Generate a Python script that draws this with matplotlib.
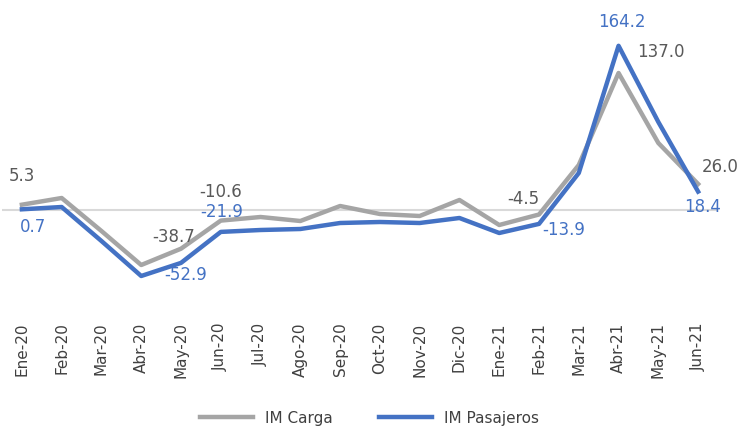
import matplotlib.pyplot as plt

months = ['Ene-20', 'Feb-20', 'Mar-20', 'Abr-20', 'May-20', 'Jun-20', 'Jul-20', 'Ago-20',
          'Sep-20', 'Oct-20', 'Nov-20', 'Dic-20', 'Ene-21', 'Feb-21', 'Mar-21', 'Abr-21',
          'May-21', 'Jun-21']
carga = [5.3, 12.0, -21.0, -55.0, -38.7, -10.6, -7.0, -11.0, 4.0, -4.0, -6.0, 10.0,
         -15.0, -4.5, 45.0, 137.0, 67.0, 26.0]
pasajeros = [0.7, 3.0, -31.0, -66.0, -52.9, -21.9, -20.0, -19.0, -13.0, -12.0, -13.0, -8.0,
             -23.0, -13.9, 37.0, 164.2, 88.0, 18.4]

# (index, text offset in px, ha)
labels_carga = [(0, (0, 20), 'center'), (4, (14, 3), 'right'), (5, (0, 20), 'center'),
                (13, (0, 6), 'right'), (15, (19, 12), 'left'), (17, (4, 8), 'left')]
labels_pas = [(0, (11, -18), 'center'), (4, (5, -12), 'center'), (5, (1, 20), 'center'),
              (13, (3, -6), 'left'), (15, (3, 24), 'center'), (17, (4, -15), 'center')]

gray = '#A5A5A5'
blue = '#4472C4'

fig = plt.figure(figsize=(7.39, 4.28), dpi=100)
ax = fig.add_axes([2 / 739, 1 - 310 / 428, 716 / 739, 300 / 428])
x = list(range(len(months)))

ax.axhline(0, color='#D9D9D9', lw=1.5, zorder=1)
ax.plot(x, carga, color=gray, lw=3.2, label='IM Carga', zorder=2)
ax.plot(x, pasajeros, color=blue, lw=3.2, label='IM Pasajeros', zorder=3)

for i, off, ha in labels_carga:
    ax.annotate(f'{carga[i]:.1f}', (i, carga[i]), xytext=off, textcoords='offset pixels',
                ha=ha, va='bottom', color='#595959', fontsize=12)
for i, off, ha in labels_pas:
    ax.annotate(f'{pasajeros[i]:.1f}', (i, pasajeros[i]), xytext=off, textcoords='offset pixels',
                ha=ha, va='center', color=blue, fontsize=12)

ax.set_xlim(-0.5, 17.5)
ax.set_ylim(-100, 200)
ax.set_xticks(x)
ax.set_xticklabels(months, rotation=90, fontsize=11, color='#404040')
ax.tick_params(axis='x', length=0, pad=9)
ax.set_yticks([])
for s in ax.spines.values():
    s.set_visible(False)

fig.legend(loc='lower center', bbox_to_anchor=(0.5, -0.027), ncol=2, frameon=False,
           prop={'size': 11}, handlelength=3.5, columnspacing=3, labelcolor='#404040')

fig.savefig('out.png', dpi=100)
